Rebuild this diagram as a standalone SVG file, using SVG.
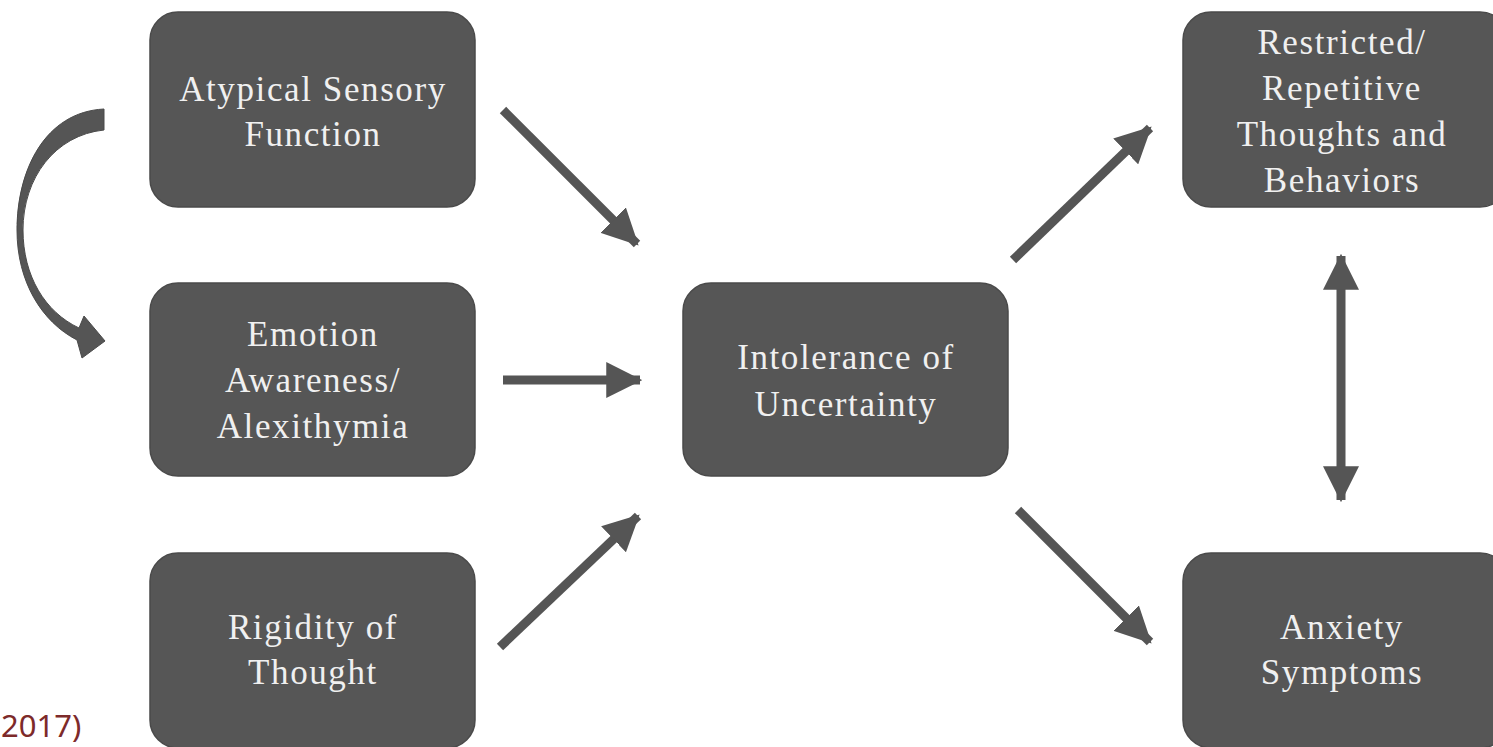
<svg xmlns="http://www.w3.org/2000/svg" width="1493" height="747" viewBox="0 0 1493 747">
<style>
.box{fill:#565656;stroke:#4a4a4a;stroke-width:1.5}
.t{font-family:"Liberation Serif",serif;font-size:35px;letter-spacing:1.6px;fill:#f0f0f0;text-anchor:middle}
.ln{stroke:#555;stroke-width:9;fill:none}
.ref{font-family:"Noto Sans",sans-serif;font-size:31px;fill:#7d2a2a}
</style>
<defs>
<marker id="ah" markerUnits="userSpaceOnUse" markerWidth="36" markerHeight="36" refX="30" refY="16" orient="auto-start-reverse" viewBox="0 0 32 32">
<path d="M0,0 L32,16 L0,32 Z" fill="#555"/>
</marker>
</defs>
<rect width="1493" height="747" fill="#fff"/>
<g id="n-atypical"><rect class="box" x="150" y="12" width="325" height="195" rx="28"/>
<text class="t" x="313" y="101">Atypical Sensory</text><text class="t" x="313" y="146">Function</text></g>
<g id="n-emotion"><rect class="box" x="150" y="283" width="325" height="193" rx="28"/>
<text class="t" x="313" y="346">Emotion</text><text class="t" x="313" y="392">Awareness/</text><text class="t" x="313" y="438">Alexithymia</text></g>
<g id="n-rigidity"><rect class="box" x="150" y="553" width="325" height="195" rx="28"/>
<text class="t" x="313" y="639">Rigidity of</text><text class="t" x="313" y="684">Thought</text></g>
<g id="n-intolerance"><rect class="box" x="683" y="283" width="325" height="193" rx="28"/>
<text class="t" x="846" y="369">Intolerance of</text><text class="t" x="846" y="416">Uncertainty</text></g>
<g id="n-restricted"><rect class="box" x="1183" y="12" width="325" height="195" rx="28"/>
<text class="t" x="1342" y="54">Restricted/</text><text class="t" x="1342" y="100">Repetitive</text><text class="t" x="1342" y="146">Thoughts and</text><text class="t" x="1342" y="192">Behaviors</text></g>
<g id="n-anxiety"><rect class="box" x="1183" y="553" width="325" height="195" rx="28"/>
<text class="t" x="1342" y="639">Anxiety</text><text class="t" x="1342" y="684">Symptoms</text></g>
<g id="connectors">
<line class="ln" x1="503" y1="110" x2="637" y2="244" marker-end="url(#ah)"/>
<line class="ln" x1="503" y1="380" x2="640" y2="380" marker-end="url(#ah)"/>
<line class="ln" x1="500" y1="647" x2="638" y2="516" marker-end="url(#ah)"/>
<line class="ln" x1="1013" y1="260" x2="1150" y2="128" marker-end="url(#ah)"/>
<line class="ln" x1="1018" y1="510" x2="1150" y2="642" marker-end="url(#ah)"/>
<line class="ln" x1="1341" y1="256" x2="1341" y2="500" marker-start="url(#ah)" marker-end="url(#ah)"/>
<path d="M104,109 C45,112 17,170 17,230 C17,282 42,322 77,340 L82,358 L105,341 L84,316 L79,328 C45,312 23,276 23,230 C23,178 55,135 104,130 Z" fill="#555" stroke="#4a4a4a" stroke-width="1"/>
</g>
<text class="ref" x="1" y="737">2017)</text>
</svg>
